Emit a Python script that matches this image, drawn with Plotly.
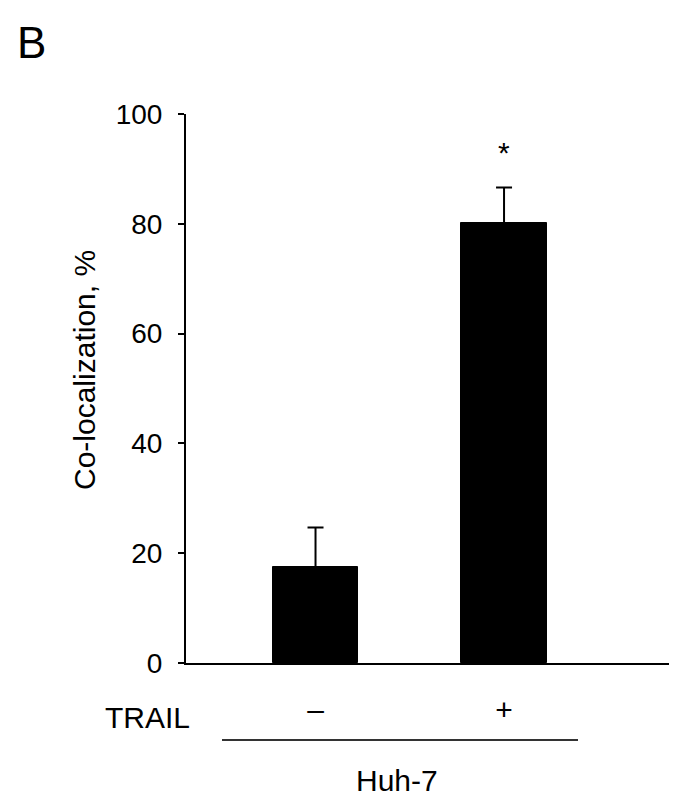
import plotly.graph_objects as go

# Data
categories = ["–", "+"]          # TRAIL treatment
values = [17.5, 80.1]            # Co-localization, %
errors = [7.2, 6.5]              # upper error
y_ticks = [0, 20, 40, 60, 80, 100]
group_label = "Huh-7"
row_label = "TRAIL"
sig_marks = ["", "*"]

FONT = "Arial, Liberation Sans, sans-serif"
OFF = 8  # default page body margin
W, H = 681 - 2 * OFF, 812 - 2 * OFF
# plot area in window pixels: x 186..669, y 114..663
L = 186 - OFF
T = 114 - OFF
R = W - (669 - OFF)
B = H - (663 - OFF)

x_idx = list(range(len(categories)))

fig = go.Figure()
fig.add_trace(go.Bar(
    x=x_idx, y=values, width=0.4536,
    marker=dict(color="black", line=dict(color="black", width=1)),
    error_y=dict(type="data", array=errors, symmetric=False, arrayminus=[0] * len(errors),
                 color="black", thickness=2, width=8),
    showlegend=False,
))

# significance marks
for xi, v, e, s in zip(x_idx, values, errors, sig_marks):
    if s:
        fig.add_annotation(x=xi, y=v + e + 6.3, text=s, showarrow=False,
                           font=dict(family=FONT, size=30, color="black"),
                           xanchor="center", yanchor="middle")

pw = W - L - R
ph = H - T - B

def px_x(p):
    return (p - OFF - L) / pw

def px_y(p):
    return (H - B - (p - OFF)) / ph

# row label TRAIL
fig.add_annotation(xref="paper", yref="paper", x=px_x(147), y=px_y(717), text=row_label,
                   showarrow=False, font=dict(family=FONT, size=30, color="black"),
                   xanchor="center", yanchor="middle")
# group bracket
fig.add_shape(type="line", xref="paper", yref="paper", x0=px_x(222), x1=px_x(578),
              y0=px_y(740), y1=px_y(740), line=dict(color="#333333", width=2))
fig.add_annotation(xref="paper", yref="paper", x=px_x(397), y=px_y(780), text=group_label,
                   showarrow=False, font=dict(family=FONT, size=30, color="black"),
                   xanchor="center", yanchor="middle")
# y title
fig.add_annotation(xref="paper", yref="paper", x=px_x(84), y=px_y(370), text="Co-localization, %",
                   textangle=-90, showarrow=False, font=dict(family=FONT, size=30, color="black"),
                   xanchor="center", yanchor="middle")
# panel letter
fig.add_annotation(xref="paper", yref="paper", x=px_x(31), y=px_y(42), text="B",
                   showarrow=False, font=dict(family=FONT, size=44, color="black"),
                   xanchor="center", yanchor="middle")

fig.update_layout(
    width=W, height=H,
    margin=dict(l=L, r=R, t=T, b=B, pad=0),
    plot_bgcolor="white", paper_bgcolor="white",
    font=dict(family=FONT, color="black"),
    bargap=0,
)
fig.update_xaxes(
    range=[-0.687, 1.875], tickmode="array", tickvals=x_idx, ticktext=categories,
    showline=True, linecolor="black", linewidth=2, showgrid=False, zeroline=False,
    ticks="", tickfont=dict(family=FONT, size=30, color="black"), ticklabelstandoff=19,
)
fig.update_yaxes(
    range=[0, 100], tickmode="array", tickvals=y_ticks,
    showline=True, linecolor="black", linewidth=2, showgrid=False, zeroline=False,
    ticks="outside", ticklen=6, tickwidth=2, tickcolor="black",
    tickfont=dict(family=FONT, size=28, color="black"), ticklabelstandoff=10,
)

fig.write_html("out.html")
